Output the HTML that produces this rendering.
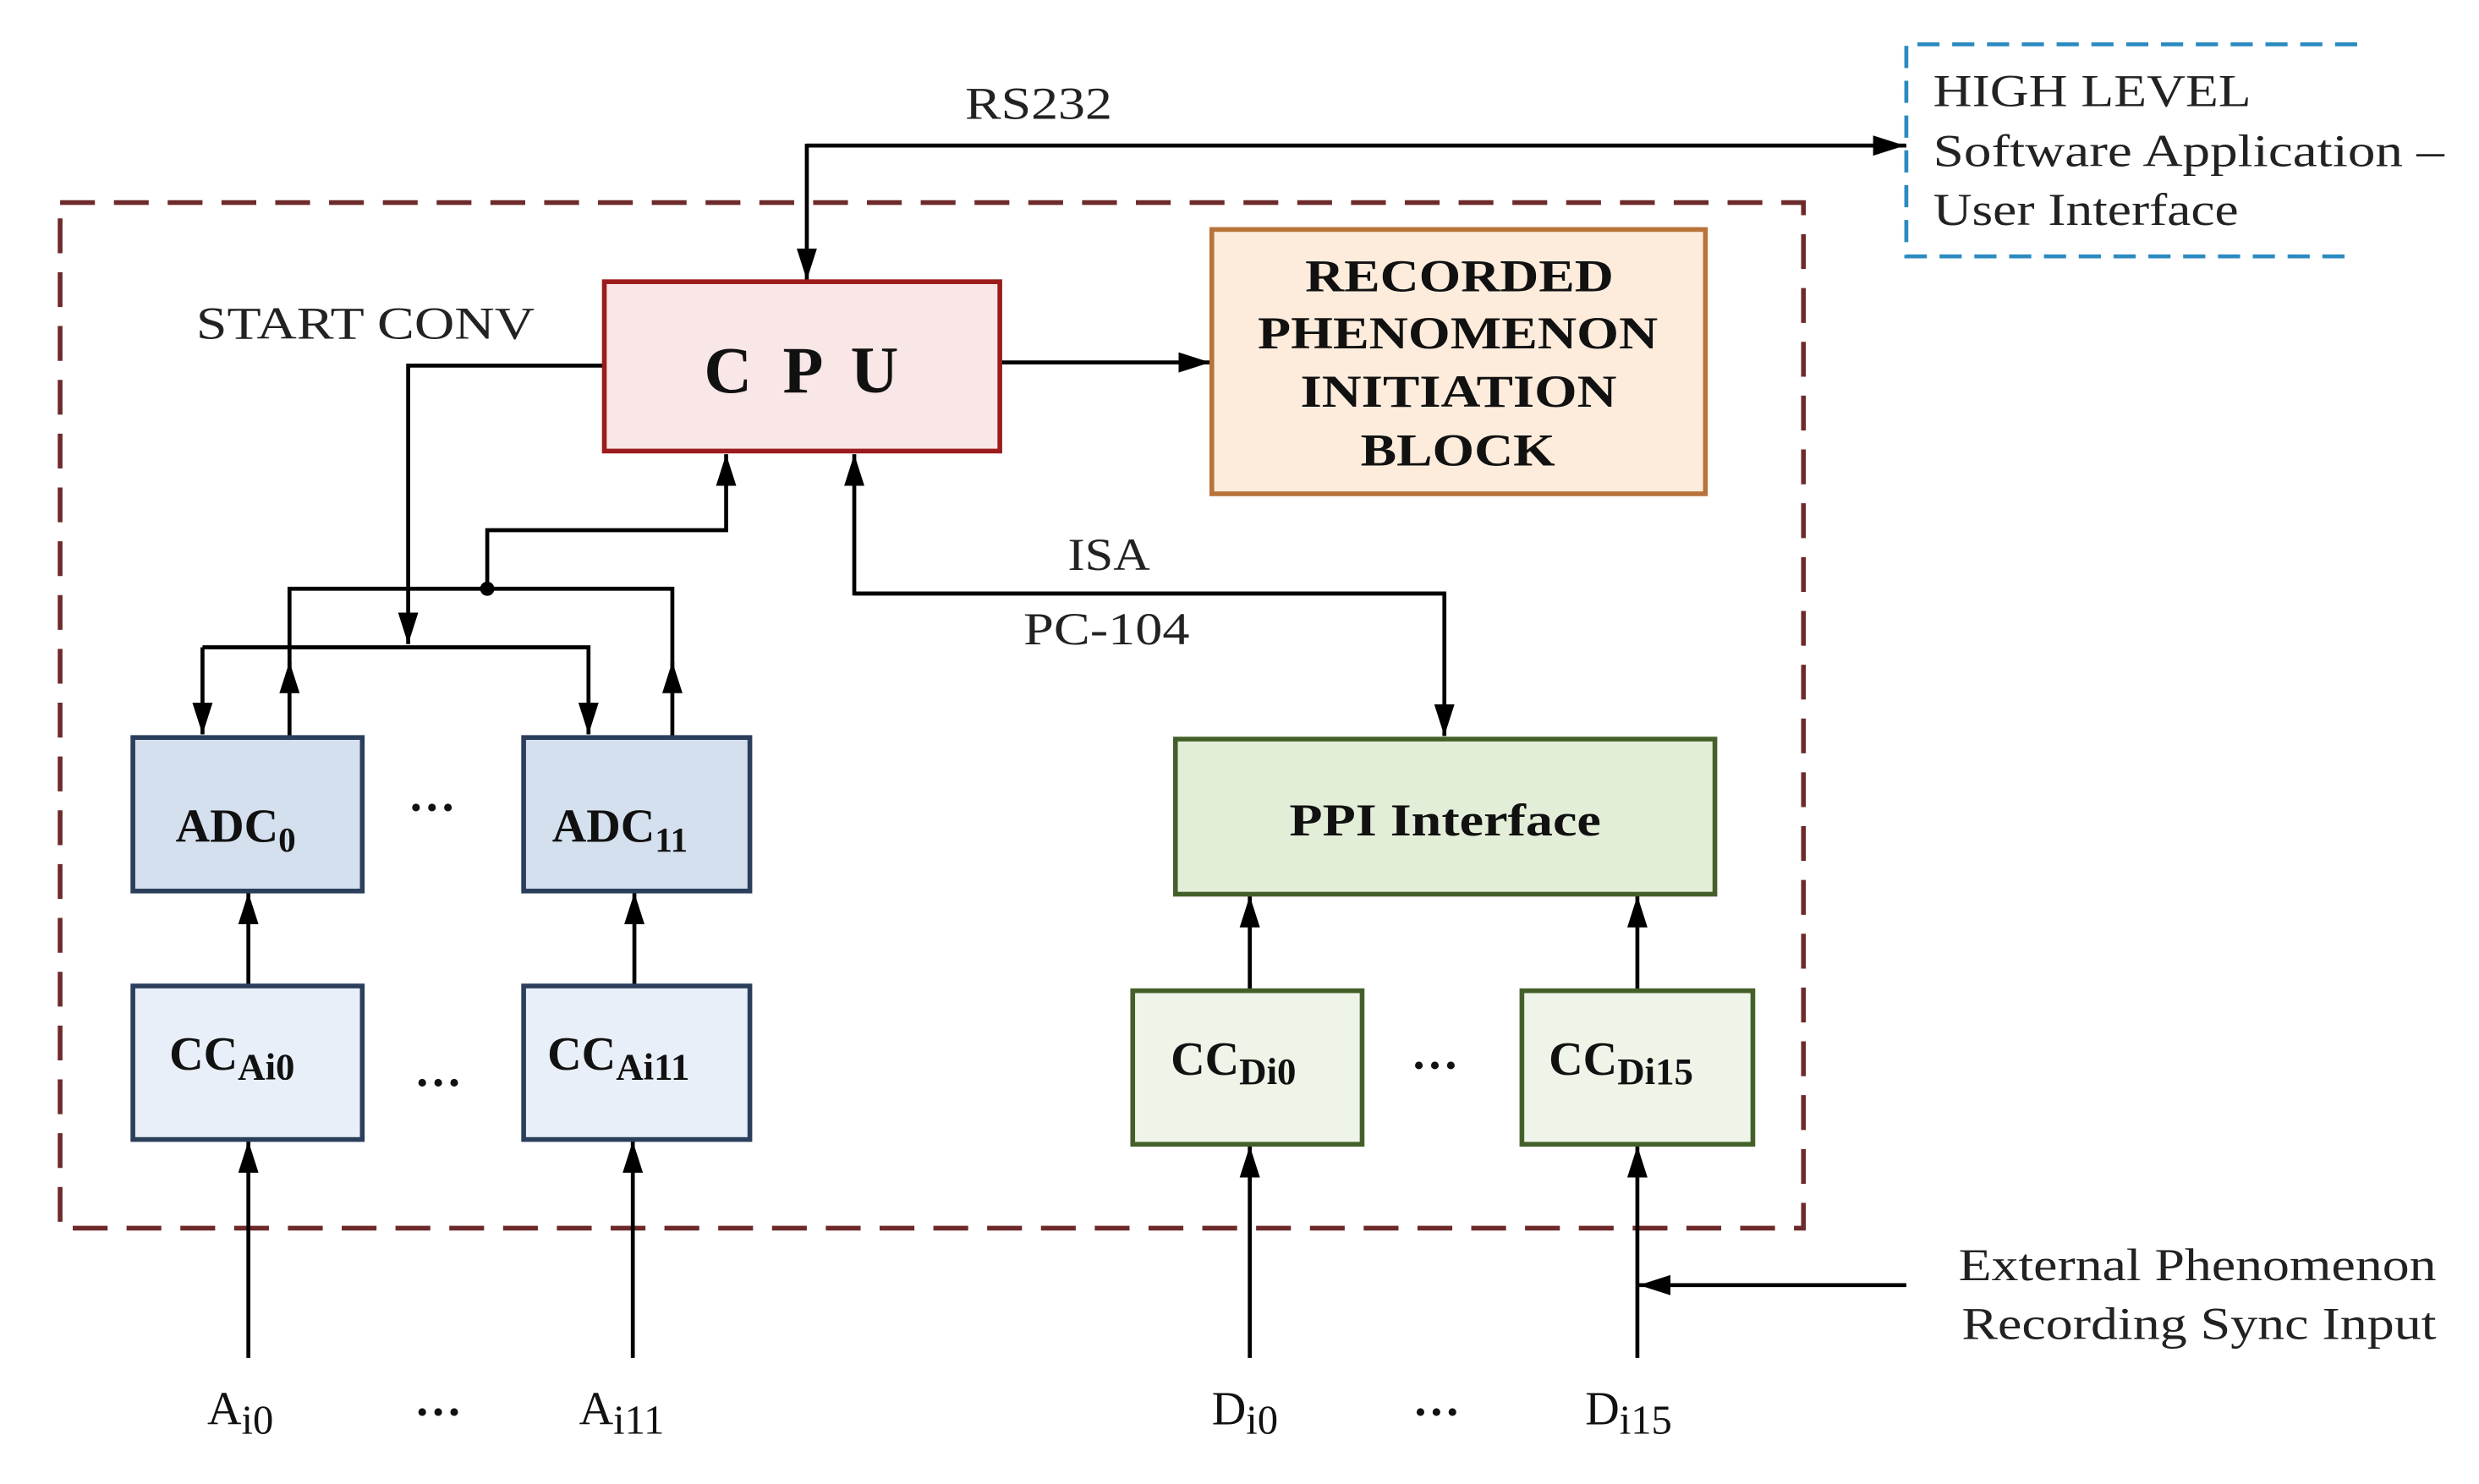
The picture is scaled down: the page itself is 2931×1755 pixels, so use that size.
<!DOCTYPE html>
<html><head><meta charset="utf-8"><style>html,body{margin:0;padding:0;background:#fff} svg text{font-family:"Liberation Serif","DejaVu Serif",serif}</style></head>
<body>
<svg width="2931" height="1750" viewBox="0 0 1567 935" preserveAspectRatio="none" xmlns="http://www.w3.org/2000/svg">
<defs>
<marker id="b" viewBox="0 0 10 10" refX="10" refY="5" markerWidth="20" markerHeight="20" orient="auto" markerUnits="userSpaceOnUse"><path d="M0,1.8 L10,5 L0,8.2 z" fill="#000"/></marker>
</defs>
<rect x="0" y="0" width="1567" height="935" fill="#fff"/>
<rect x="38" y="128" width="1102" height="648" fill="none" stroke="#6e2a2a" stroke-width="3" stroke-dasharray="22,12"/>
<path d="M1490,28 H1205 V162 H1490" fill="none" stroke="#2a8ac0" stroke-width="2.5" stroke-dasharray="14,8"/>
<g font-size="29" fill="#222">
<text x="1222" y="67" textLength="201" lengthAdjust="spacingAndGlyphs">HIGH LEVEL</text>
<text x="1222" y="105" textLength="323" lengthAdjust="spacingAndGlyphs">Software Application –</text>
<text x="1222" y="142" textLength="193" lengthAdjust="spacingAndGlyphs">User Interface</text>
<text x="610" y="75" textLength="93" lengthAdjust="spacingAndGlyphs">RS232</text>
<text x="124" y="214" textLength="214" lengthAdjust="spacingAndGlyphs">START CONV</text>
<text x="675" y="360" textLength="52" lengthAdjust="spacingAndGlyphs">ISA</text>
<text x="647" y="407" textLength="105" lengthAdjust="spacingAndGlyphs">PC-104</text>
<text x="1238" y="809" textLength="302" lengthAdjust="spacingAndGlyphs">External Phenomenon</text>
<text x="1240" y="846" textLength="300" lengthAdjust="spacingAndGlyphs">Recording Sync Input</text>
</g>
<g fill="none" stroke="#000" stroke-width="2.5">
<path d="M1205,92 H510 V177" marker-end="url(#b)"/>
<path d="M510,92 H1204" marker-end="url(#b)"/>
<path d="M632,229 H765" marker-end="url(#b)"/>
<path d="M382,231 H258 V407" marker-end="url(#b)"/>
<path d="M128,409 H372 V464" marker-end="url(#b)"/>
<path d="M128,409 V464" marker-end="url(#b)"/>
<path d="M183,465 V418" marker-end="url(#b)"/>
<path d="M425,465 V418" marker-end="url(#b)"/>
<path d="M183,425 V372 H425 V425"/>
<path d="M308,372 V335 H459 V287" marker-end="url(#b)"/>
<path d="M913,375 H540 V287" marker-end="url(#b)"/>
<path d="M540,375 H913 V465" marker-end="url(#b)"/>
<path d="M157,623 V564" marker-end="url(#b)"/>
<path d="M401,623 V564" marker-end="url(#b)"/>
<path d="M790,626 V566" marker-end="url(#b)"/>
<path d="M1035,626 V566" marker-end="url(#b)"/>
<path d="M157,858 V721" marker-end="url(#b)"/>
<path d="M400,858 V721" marker-end="url(#b)"/>
<path d="M790,858 V724" marker-end="url(#b)"/>
<path d="M1035,858 V724" marker-end="url(#b)"/>
<path d="M1205,812 H1036" marker-end="url(#b)"/>
</g>
<circle cx="308" cy="372" r="4.5" fill="#000"/>
<rect x="382" y="178" width="250" height="107" fill="#f9e6e6" stroke="#9b1c1c" stroke-width="3"/>
<text x="445" y="248" font-size="42" font-weight="bold" fill="#111" textLength="123" lengthAdjust="spacing">C P U</text>
<rect x="766" y="145" width="312" height="167" fill="#fdecdb" stroke="#b8733a" stroke-width="3"/>
<rect x="743" y="467" width="341" height="98" fill="#e3eed8" stroke="#44602a" stroke-width="3"/>
<g font-size="29" font-weight="bold" fill="#111">
<text x="825" y="184" textLength="195" lengthAdjust="spacingAndGlyphs">RECORDED</text>
<text x="795" y="220" textLength="253" lengthAdjust="spacingAndGlyphs">PHENOMENON</text>
<text x="822" y="257" textLength="200" lengthAdjust="spacingAndGlyphs">INITIATION</text>
<text x="860" y="294" textLength="123" lengthAdjust="spacingAndGlyphs">BLOCK</text>
<text x="815" y="528" textLength="197" lengthAdjust="spacingAndGlyphs">PPI Interface</text>
</g>
<rect x="84" y="466" width="145" height="97" fill="#d5e0ee" stroke="#2b3f5c" stroke-width="3"/>
<rect x="331" y="466" width="143" height="97" fill="#d5e0ee" stroke="#2b3f5c" stroke-width="3"/>
<g font-weight="bold" fill="#111" font-size="30">
<text x="111" y="532">ADC<tspan font-size="22" dy="6">0</tspan></text>
<text x="349" y="532">ADC<tspan font-size="22" dy="6">11</tspan></text>
<text x="258" y="512">…</text>
<text x="262" y="686">…</text>
</g>
<rect x="84" y="623" width="145" height="97" fill="#e9eff8" stroke="#2b3f5c" stroke-width="3"/>
<rect x="331" y="623" width="143" height="97" fill="#e9eff8" stroke="#2b3f5c" stroke-width="3"/>
<g font-weight="bold" fill="#111" font-size="30">
<text x="107" y="676">CC<tspan font-size="24" dy="6">Ai0</tspan></text>
<text x="346" y="676">CC<tspan font-size="24" dy="6">Ai11</tspan></text>
</g>
<rect x="716" y="626" width="145" height="97" fill="#eef5e8" stroke="#44602a" stroke-width="3"/>
<rect x="962" y="626" width="146" height="97" fill="#eef5e8" stroke="#44602a" stroke-width="3"/>
<g font-weight="bold" fill="#111" font-size="30">
<text x="740" y="679">CC<tspan font-size="24" dy="6">Di0</tspan></text>
<text x="979" y="679">CC<tspan font-size="24" dy="6">Di15</tspan></text>
<text x="892" y="675">…</text>
</g>
<g font-size="30" fill="#111">
<text x="131" y="900">A<tspan font-size="26" dy="6">i0</tspan></text>
<text x="366" y="900">A<tspan font-size="26" dy="6">i11</tspan></text>
<text x="766" y="900">D<tspan font-size="26" dy="6">i0</tspan></text>
<text x="1002" y="900">D<tspan font-size="26" dy="6">i15</tspan></text>
<text x="262" y="894" font-weight="bold">…</text>
<text x="893" y="894" font-weight="bold">…</text>
</g>
</svg>
</body></html>
